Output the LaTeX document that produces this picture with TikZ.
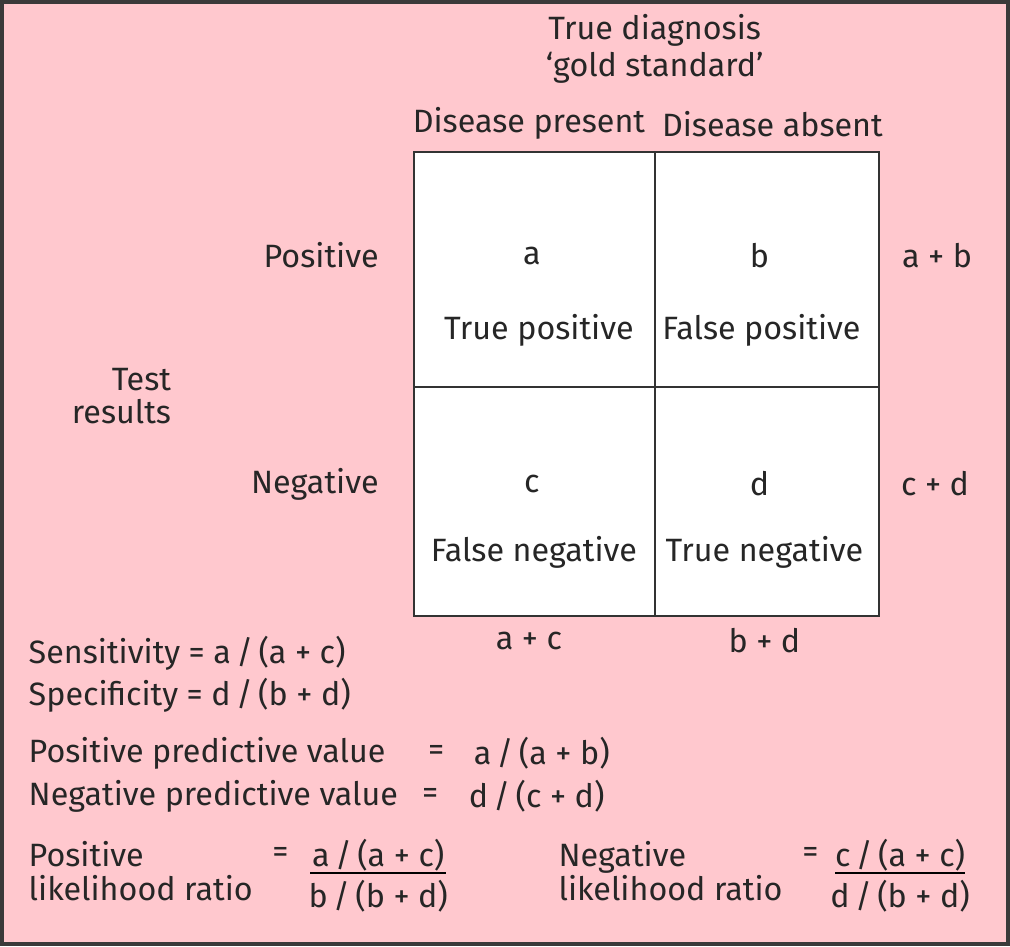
\documentclass[tikz,border=0pt]{standalone}
\usepackage{fontspec}
\setmainfont{Fira Sans}
\definecolor{bgpink}{HTML}{FFC8CE}
\definecolor{framegray}{HTML}{3A3A3A}
\newcommand{\dv}{\,/\,}
\begin{document}
\begin{tikzpicture}[
    x=0.01cm, y=-0.01cm,
    every node/.style={font=\fontsize{9.2}{11}\selectfont, inner sep=0pt, text=black!85},
    cell/.style={draw=black!80, fill=white, line width=0.6pt, anchor=north west},
    rowlab/.style={anchor=east},
    formula/.style={anchor=west},
]

% === Background ===
\draw[fill=bgpink, draw=framegray, line width=1.2pt] (1,1) rectangle (1009,945);
\useasboundingbox (0,0) rectangle (1010,946);

% === Header ===
\node[align=center] (head) at (655,48) {True diagnosis\\[-0.5pt]`gold standard'};
\node (present) at (529,123) {Disease present};
\node (absent) at (773,123) {Disease absent};

% === Table cells ===
\node[cell, minimum width=2.41cm, minimum height=2.36cm] (ca) at (413,150) {};
\node[cell, minimum width=2.25cm, minimum height=2.36cm] (cb) at (654,150) {};
\node[cell, minimum width=2.41cm, minimum height=2.29cm] (cc) at (413,386) {};
\node[cell, minimum width=2.25cm, minimum height=2.29cm] (cd) at (654,386) {};

\node (a) at (532,255) {a};
\node (b) at (760,255) {b};
\node (c) at (532,484) {c};
\node (d) at (760,484) {d};
\node (tp) at (539,330) {True positive};
\node (fp) at (762,330) {False positive};
\node (fn) at (534,552) {False negative};
\node (tn) at (765,552) {True negative};

% === Row labels and margins ===
\node[rowlab] (pos) at (379,255) {Positive};
\node[rowlab] (neg) at (379,484) {Negative};
\node[align=right, anchor=east] (test) at (171,396) {Test\\[-1.5pt]results};
\node (ab) at (938,255) {a + b};
\node (cdsum) at (936,484) {c + d};
\node (acsum) at (529,641) {a + c};
\node (bdsum) at (765,641) {b + d};

% === Formulas ===
\node[formula] (sens) at (27,654) {Sensitivity = a\dv(a + c)};
\node[formula] (spec) at (27,696) {Specificity = d\dv(b + d)};
\node[formula] (ppv) at (27,754) {Positive predictive value};
\node (ppveq) at (436,754) {=};
\node[formula] (ppvval) at (473,754) {a\dv(a + b)};
\node[formula] (npv) at (27,797) {Negative predictive value};
\node (npveq) at (430,797) {=};
\node[formula] (npvval) at (468,797) {d\dv(c + d)};

% Likelihood ratios
\node[formula, align=left] (plr) at (27,872) {Positive\\[-1.5pt]likelihood ratio};
\node (plreq) at (280,856) {=};
\node (plrnum) at (378,856) {a\dv(a + c)};
\node (plrden) at (378,897) {b\dv(b + d)};
\draw[line width=0.6pt] (310,874) -- (446,874);

\node[formula, align=left] (nlr) at (558,872) {Negative\\[-1.5pt]likelihood ratio};
\node (nlreq) at (811,856) {=};
\node (nlrnum) at (901,856) {c\dv(a + c)};
\node (nlrden) at (901,897) {d\dv(b + d)};
\draw[line width=0.6pt] (836,874) -- (966,874);

\end{tikzpicture}
\end{document}
